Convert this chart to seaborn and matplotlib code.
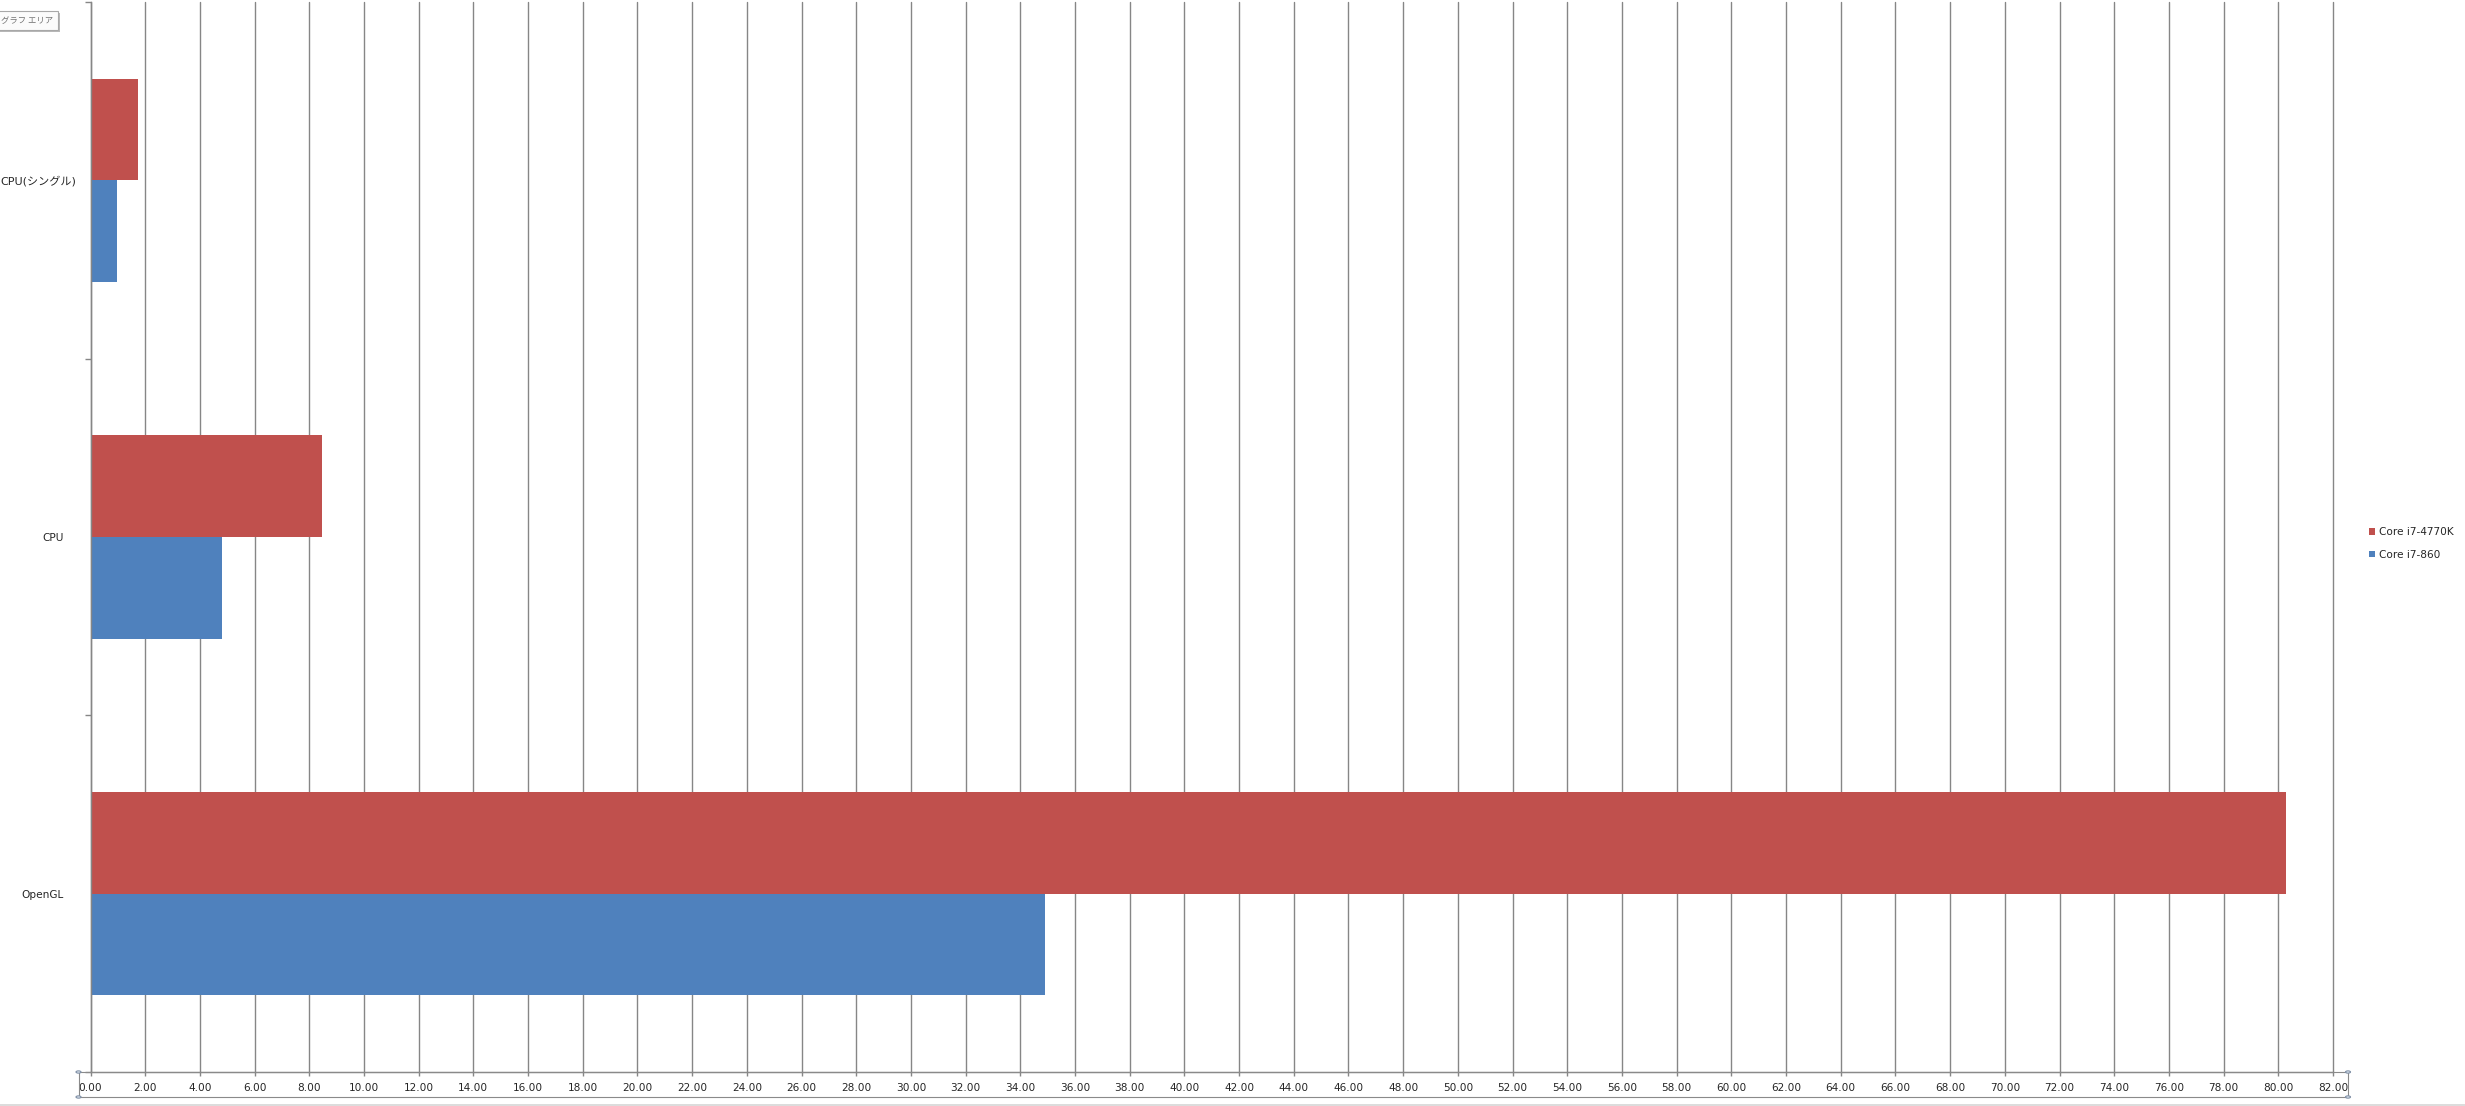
import matplotlib
matplotlib.use("Agg")
import matplotlib.pyplot as plt
import matplotlib.transforms as mtransforms
from matplotlib.patches import Rectangle, Circle
import seaborn as sns
import pandas as pd
import numpy as np

# ---- data ----
categories = ["CPU(シングル)", "CPU", "OpenGL"]
series_names = ["Core i7-4770K", "Core i7-860"]
core_i7_4770k = [1.72, 8.46, 80.27]
core_i7_860 = [0.97, 4.81, 34.90]
x_ticks = list(range(0, 83, 2))
series_colors = ["#C0504D", "#4F81BD"]

sns.set_style("white")
plt.rcParams["font.family"] = ["DejaVu Sans", "Noto Sans CJK JP"]

rows = []
for c, a, b in zip(categories, core_i7_4770k, core_i7_860):
    rows.append({"test": c, "cpu": series_names[0], "score": a})
    rows.append({"test": c, "cpu": series_names[1], "score": b})
df = pd.DataFrame(rows)

W, H = 2465, 1106
fig = plt.figure(figsize=(W / 100, H / 100), dpi=100)
ax = fig.add_axes([90.5 / W, 1 - 1072 / H, (2333 - 90.5) / W, (1072 - 2) / H])

sns.barplot(data=df, x="score", y="test", hue="cpu", order=categories,
            hue_order=series_names, palette=series_colors, orient="h",
            width=0.571, gap=0, saturation=1, errorbar=None,
            edgecolor="none", linewidth=0, ax=ax, legend=True)

grid_c = "#868686"
ax.set_xlim(0, 82)
ax.set_ylim(2.5, -0.5)
ax.set_xticks(x_ticks)
ax.set_xticklabels([f"{v:.2f}" for v in x_ticks])
ax.set_axisbelow(True)
ax.xaxis.grid(True, color=grid_c, linewidth=1.0)
for gl in ax.get_xgridlines():
    gl.set_clip_on(False)
ax.yaxis.grid(False)
ax.set_xlabel("")
ax.set_ylabel("")

for s in ["top", "right"]:
    ax.spines[s].set_visible(False)
for s in ["left", "bottom"]:
    ax.spines[s].set_color(grid_c)
    ax.spines[s].set_linewidth(1.0)

ax.tick_params(axis="x", which="major", labelsize=7.6, length=3, width=1,
               color=grid_c, pad=5, direction="out", bottom=True)
ax.set_yticks([-0.5, 0.5, 1.5, 2.5], minor=True)
ax.tick_params(axis="y", which="minor", length=4, width=1, color=grid_c,
               direction="out", left=True)
ax.tick_params(axis="y", which="major", length=0, labelsize=7.6, pad=19.5)

# long label overflows to the right a little, as in the original
lab0 = ax.get_yticklabels()[0]
lab0.set_fontsize(8.0)
lab0.set_transform(lab0.get_transform() +
                   mtransforms.ScaledTranslation(13 / 100, 0, fig.dpi_scale_trans))

# legend
handles, labels = ax.get_legend_handles_labels()
ax.legend(handles, labels, loc="upper left",
          bbox_to_anchor=(2369 / W, 1 - 527 / H), bbox_transform=fig.transFigure,
          frameon=False, fontsize=7.6, borderpad=0, borderaxespad=0,
          handlelength=0.6, handleheight=0.6, handletextpad=0.38,
          labelspacing=1.2)

# selected-axis box with handles (Excel UI)
box_c = "#7f8fa6"
fig.add_artist(Rectangle((78.5 / W, 1 - 1097 / H), (2348 - 78.5) / W, 25 / H,
                         transform=fig.transFigure, fill=False, ec="#8a8a8a",
                         lw=0.8))
for (px, py) in [(78.5, 1072), (78.5, 1097), (2348, 1072), (2348, 1097)]:
    fig.add_artist(Circle((px / W, 1 - py / H), 2.5 / W,
                          transform=fig.transFigure, fill=True, fc="#e6eef6",
                          ec=box_c, lw=0.8))
fig.add_artist(plt.Line2D([0, 1], [1 - 1105 / H, 1 - 1105 / H],
                          transform=fig.transFigure, color="#d6d6d6", lw=1.2))

# tooltip (Excel UI)
fig.add_artist(Rectangle((-1 / W, 1 - 32 / H), 61 / W, 19 / H,
                         transform=fig.transFigure, fc="#b8b8b8", ec="none"))
fig.add_artist(Rectangle((-3 / W, 1 - 30 / H), 61 / W, 19 / H,
                         transform=fig.transFigure, fc="#fbfbfb", ec="#a8a8a8",
                         lw=0.8))
fig.text(1 / W, 1 - 20.5 / H, "グラフ エリア", ha="left", va="center",
         fontsize=6.0, color="#707070", family=["Noto Sans CJK JP", "DejaVu Sans"])

fig.savefig("out.png", dpi=100)
